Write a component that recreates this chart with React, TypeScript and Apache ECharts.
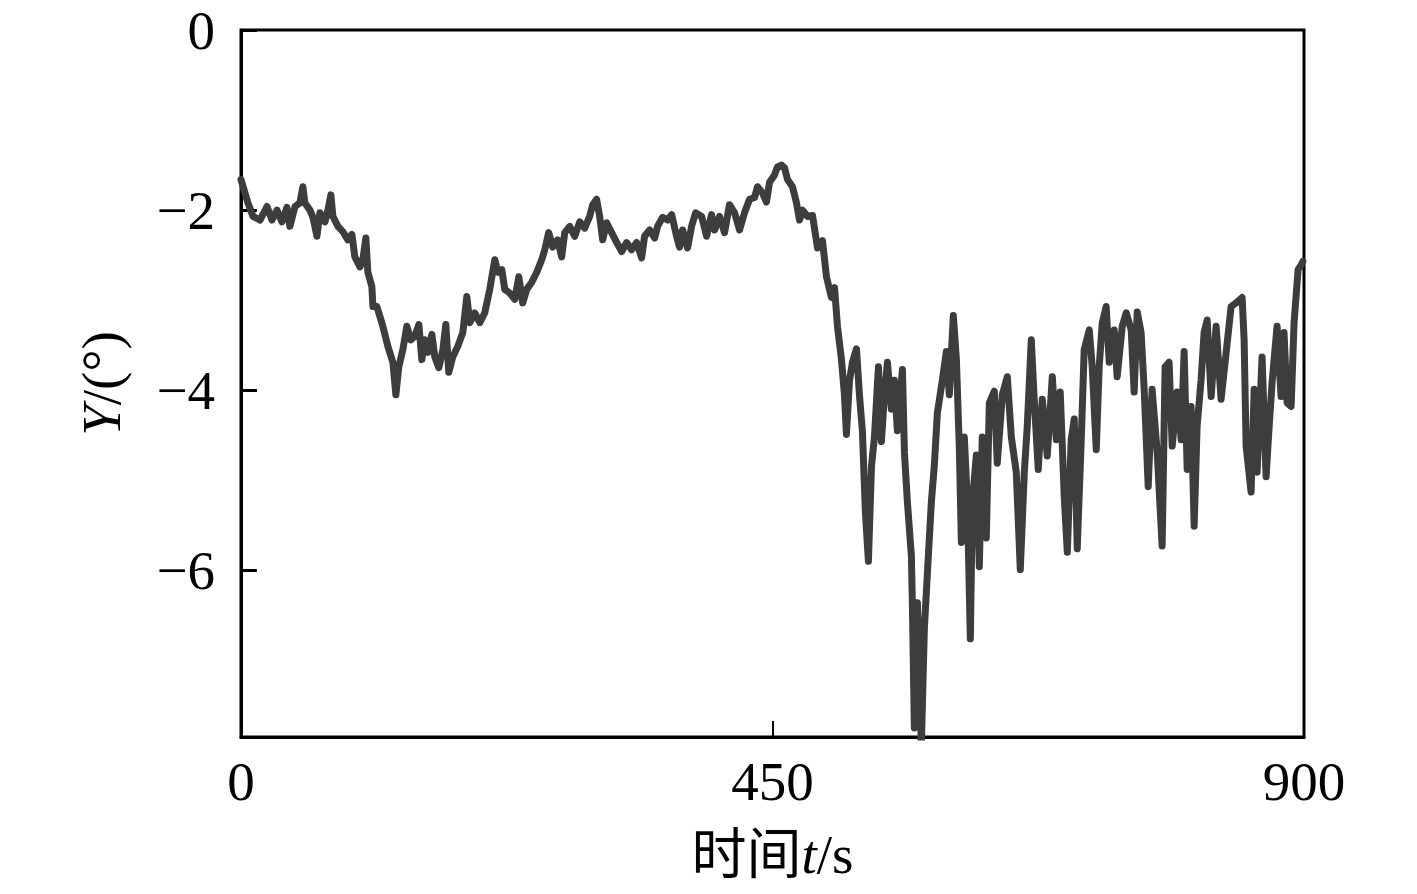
import React, { useEffect, useRef } from "react";
import * as echarts from "echarts";

// Time (s) / yaw angle Y (°) readings, in four phases
const earlyPhase: [number, number][] = [
  [0, -1.66], [5.9, -1.92], [10.2, -2.07], [16.1, -2.11], [22.0, -1.96], [26.2, -2.11], [30.5, -2.0], [34.7, -2.13],
  [38.9, -1.97], [41.4, -2.18], [45.7, -1.96], [49.9, -1.92], [52.4, -1.74], [54.1, -1.92], [58.4, -2.0], [60.9, -2.08],
  [64.3, -2.29], [66.8, -2.03], [71.1, -2.13], [73.6, -2.0], [76.1, -1.83], [77.8, -2.07], [82.1, -2.18], [86.3, -2.24],
  [90.5, -2.33], [93.9, -2.27], [96.4, -2.52], [100.7, -2.63], [103.2, -2.55], [105.7, -2.31], [107.4, -2.69], [110.8, -2.85],
  [111.7, -3.07], [115.0, -3.07], [117.6, -3.18], [120.1, -3.29], [124.3, -3.51], [128.6, -3.69], [131.1, -4.05], [133.6, -3.74],
  [137.0, -3.55], [140.4, -3.29], [143.8, -3.44], [147.2, -3.4], [150.6, -3.27], [153.1, -3.66], [155.6, -3.44], [158.2, -3.58],
  [161.6, -3.38], [164.1, -3.63], [167.5, -3.75], [170.9, -3.55], [173.4, -3.27], [175.9, -3.8], [179.3, -3.63], [183.6, -3.51],
  [187.8, -3.36], [191.2, -2.96], [193.7, -3.25], [197.9, -3.14], [202.2, -3.25], [206.4, -3.14], [210.6, -2.88], [214.9, -2.55],
  [217.4, -2.69], [220.8, -2.66], [223.3, -2.88], [227.5, -2.92], [231.8, -2.99], [235.2, -2.74],
];

const risePhase: [number, number][] = [
  [238.5, -3.03], [241.9, -2.88], [246.2, -2.8], [250.4, -2.69], [254.6, -2.55], [257.2, -2.44], [260.5, -2.25], [263.9, -2.41],
  [268.1, -2.33], [271.5, -2.52], [274.1, -2.25], [278.3, -2.18], [282.5, -2.29], [286.8, -2.13], [291.0, -2.2], [295.2, -2.07],
  [297.8, -1.94], [301.1, -1.88], [303.7, -2.07], [306.2, -2.33], [309.6, -2.14], [313.8, -2.25], [318.1, -2.36], [322.3, -2.46],
  [326.5, -2.36], [330.7, -2.44], [335.0, -2.36], [339.2, -2.53], [341.7, -2.29], [346.0, -2.22], [350.2, -2.31], [352.7, -2.18],
  [357.0, -2.08], [361.2, -2.11], [364.6, -2.05], [368.8, -2.29], [371.3, -2.41], [373.9, -2.22], [378.1, -2.42], [381.5, -2.18],
  [384.9, -2.03], [390.0, -2.07], [394.2, -2.29], [398.4, -2.05], [401.0, -2.22], [405.2, -2.07], [409.4, -2.25], [413.6, -1.94],
  [417.9, -2.03], [422.1, -2.22], [426.3, -2.03], [430.6, -1.88], [434.8, -1.86], [437.3, -1.74], [441.6, -1.81], [444.9, -1.91],
  [447.5, -1.69], [451.7, -1.61], [454.2, -1.52], [457.6, -1.5], [460.2, -1.53], [462.7, -1.66], [466.9, -1.74], [470.3, -1.92],
  [472.9, -2.11], [475.4, -2.0], [479.6, -2.07],
];

const dropPhase: [number, number][] = [
  [483.9, -2.06], [488.1, -2.42], [492.3, -2.34], [495.7, -2.74], [499.9, -2.97], [502.5, -2.86], [505.0, -3.29], [508.4, -3.66],
  [510.9, -4.05], [512.6, -4.49], [515.2, -3.89], [517.7, -3.69], [521.1, -3.54], [523.6, -4.05], [526.1, -4.45], [528.7, -5.37],
  [531.2, -5.9], [533.8, -4.84], [536.3, -4.52], [539.7, -3.74], [542.2, -4.57], [544.8, -4.05], [547.3, -3.69], [550.7, -4.21],
  [553.2, -3.89], [555.7, -4.45], [560.0, -3.77], [561.7, -4.69], [564.2, -5.24], [567.6, -5.84], [568.4, -6.36], [570.1, -7.75],
  [572.7, -6.36], [576.0, -7.95], [578.6, -6.64], [581.1, -6.04], [584.5, -5.24], [587.0, -4.84], [589.6, -4.25], [593.8, -3.89],
  [597.2, -3.57], [599.7, -4.05], [603.1, -3.17], [605.7, -3.66], [608.2, -4.65], [609.9, -5.69], [612.4, -4.52], [615.0, -5.24],
  [617.5, -6.76], [619.2, -5.24], [622.6, -4.72], [625.1, -5.96], [627.6, -4.52], [631.0, -5.64], [633.6, -4.14], [637.8, -4.01],
  [640.3, -4.81], [644.6, -4.05], [648.8, -3.85], [652.2, -4.52],
];

const lastPhase: [number, number][] = [
  [656.4, -4.91], [659.8, -5.99], [663.2, -4.91], [665.7, -4.4], [669.1, -3.44], [671.6, -4.1], [675.0, -4.88], [678.4, -4.1],
  [682.6, -4.73], [686.9, -3.85], [690.3, -4.55], [693.6, -4.02], [697.0, -5.18], [699.6, -5.8], [702.9, -4.55], [705.5, -4.32],
  [708.0, -5.76], [711.4, -4.55], [713.9, -3.55], [718.2, -3.33], [720.7, -3.74], [724.1, -4.66], [726.6, -3.74], [729.2, -3.25],
  [732.5, -3.07], [735.1, -3.69], [739.3, -3.33], [741.8, -3.85], [746.1, -3.29], [749.5, -3.14], [753.7, -3.33], [756.2, -4.02],
  [758.8, -3.13], [762.1, -3.36], [764.7, -3.99], [768.1, -5.07], [771.4, -3.99], [775.7, -4.69], [779.9, -5.73], [782.4, -3.74],
  [785.8, -3.69], [788.4, -4.62], [792.6, -4.02], [796.0, -4.55], [798.5, -3.57], [801.1, -4.88], [804.4, -4.18], [807.0, -5.51],
  [809.5, -4.4], [812.9, -3.88], [815.4, -3.36], [818.0, -3.22], [821.4, -4.07], [825.6, -3.29], [829.8, -4.1], [834.1, -3.58],
  [838.3, -3.07], [842.5, -3.03], [847.6, -2.97], [849.3, -3.44], [851.0, -4.62], [855.2, -5.13], [857.8, -3.99], [860.3, -4.91],
  [864.5, -3.63], [867.9, -4.96], [870.5, -4.4], [873.0, -3.91], [877.2, -3.29], [880.6, -4.07], [883.1, -3.36], [885.7, -4.14],
  [889.1, -4.18], [891.6, -3.25], [895.0, -2.66], [897.5, -2.61], [899.0, -2.57],
];

const xTicks = [0, 450, 900];
const yTicks = [0, -2, -4, -6];

const SERIF = '"Liberation Serif", "Times New Roman", "Noto Sans CJK SC", serif';
const FS = 55;

export default function App() {
  const ref = useRef<HTMLDivElement>(null);
  useEffect(() => {
    if (!ref.current) return;
    const chart = echarts.init(ref.current, undefined, { renderer: "svg" });
    const data = [...earlyPhase, ...risePhase, ...dropPhase, ...lastPhase];
    chart.setOption({
      animation: false,
      backgroundColor: "#fff",
      grid: {
        left: 241,
        top: 30,
        right: 113,
        bottom: 157,
        show: true,
        borderColor: "#000",
        borderWidth: 3,
        backgroundColor: "transparent",
      },
      xAxis: {
        type: "value",
        min: xTicks[0],
        max: xTicks[2],
        interval: xTicks[1] - xTicks[0],
        axisLine: { show: true, onZero: false, lineStyle: { color: "#000", width: 3 } },
        axisTick: { show: true, inside: true, length: 16, lineStyle: { color: "#000", width: 2 } },
        splitLine: { show: false },
        axisLabel: { fontSize: FS, fontFamily: SERIF, color: "#000", margin: 17 },
        name: "时间{it|t}/s",
        nameLocation: "middle",
        nameGap: 90,
        nameTextStyle: {
          fontSize: FS,
          fontFamily: SERIF,
          color: "#000",
          rich: { it: { fontStyle: "italic", fontSize: FS, fontFamily: SERIF, color: "#000" } },
        },
      },
      yAxis: {
        type: "value",
        min: -7.85,
        max: 0,
        axisLine: { show: true, onZero: false, lineStyle: { color: "#000", width: 3 } },
        axisTick: {
          show: true,
          inside: true,
          length: 16,
          customValues: yTicks,
          lineStyle: { color: "#000", width: 3 },
        },
        splitLine: { show: false },
        axisLabel: {
          customValues: yTicks,
          fontSize: FS,
          fontFamily: SERIF,
          color: "#000",
          margin: 26,
          formatter: (v: number) => (v === 0 ? "0" : "\u2212" + Math.abs(v)),
        },
        name: "{it|Y}/(°)",
        nameLocation: "middle",
        nameRotate: 90,
        nameGap: 112,
        nameTextStyle: {
          fontSize: FS,
          fontFamily: SERIF,
          color: "#000",
          rich: { it: { fontStyle: "italic", fontSize: FS, fontFamily: SERIF, color: "#000" } },
        },
      },
      series: [
        {
          type: "line",
          data,
          symbol: "none",
          clip: true,
          lineStyle: { color: "#3d3d3d", width: 7, join: "round", cap: "round" },
        },
      ],
    });
    return () => chart.dispose();
  }, []);
  return (
    <div
      ref={ref}
      style={{ position: "fixed", left: 0, top: 0, width: 1417, height: 894, background: "#fff" }}
    />
  );
}
